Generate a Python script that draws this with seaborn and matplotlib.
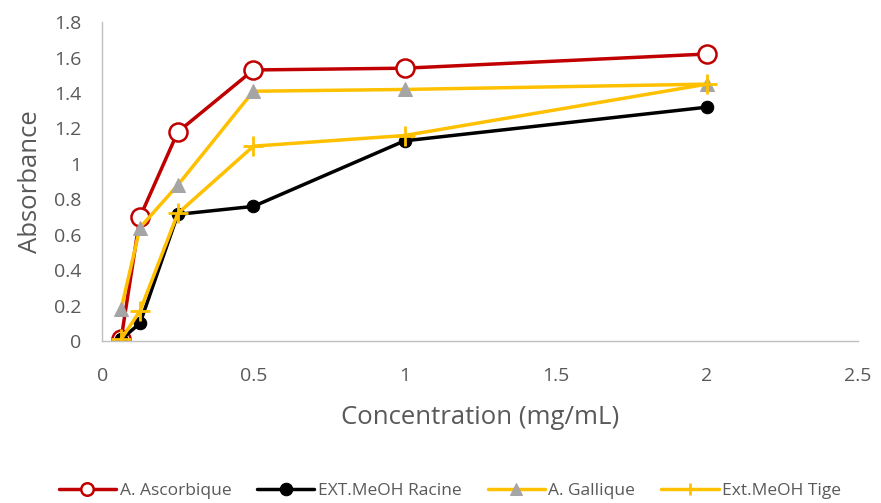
import matplotlib
matplotlib.use("Agg")
import matplotlib.pyplot as plt
import seaborn as sns
import pandas as pd

conc = [0.0625, 0.125, 0.25, 0.5, 1, 2]
ascorbique = [0.01, 0.70, 1.18, 1.53, 1.54, 1.62]
racine = [0.01, 0.10, 0.715, 0.76, 1.13, 1.32]
gallique = [0.18, 0.64, 0.88, 1.41, 1.42, 1.45]
tige = [0.01, 0.17, 0.72, 1.10, 1.16, 1.45]
series_names = ["A. Ascorbique", "EXT.MeOH Racine", "A. Gallique", "Ext.MeOH Tige"]

sns.set_theme(style="white")
plt.rcParams['font.family'] = ['Open Sans', 'DejaVu Sans']

fig = plt.figure(figsize=(8.81, 5.03), dpi=100)
ax = fig.add_axes([0.116, 0.322, 0.858, 0.634])

styles = [
    dict(color="#C00000", marker="o", markersize=13, markerfacecolor="white",
         markeredgecolor="#C00000", markeredgewidth=1.8),
    dict(color="black", marker="o", markersize=9, markerfacecolor="black",
         markeredgecolor="black"),
    dict(color="#FFC000", marker="^", markersize=10, markerfacecolor="#A5A5A5",
         markeredgecolor="#A5A5A5"),
    dict(color="#FFC000", marker="+", markersize=14, markeredgewidth=2,
         markeredgecolor="#FFC000"),
]
for name, vals, st in zip(series_names, [ascorbique, racine, gallique, tige], styles):
    df = pd.DataFrame({"x": conc, "y": vals})
    sns.lineplot(data=df, x="x", y="y", ax=ax, linewidth=2.5, label=name, **st)

ax.set_xlim(0, 2.5)
ax.set_ylim(0, 1.8)
ax.set_xticks([0, 0.5, 1, 1.5, 2, 2.5])
ax.set_xticklabels(["0", "0.5", "1", "1.5", "2", "2.5"])
ax.set_yticks([0, 0.2, 0.4, 0.6, 0.8, 1, 1.2, 1.4, 1.6, 1.8])
ax.set_yticklabels(["0", "0.2", "0.4", "0.6", "0.8", "1", "1.2", "1.4", "1.6", "1.8"])
ax.tick_params(axis="both", labelsize=14, colors="#595959", length=0)
ax.tick_params(axis="x", pad=19)
ax.tick_params(axis="y", pad=15)
for s in ["top", "right"]:
    ax.spines[s].set_visible(False)
for s in ["left", "bottom"]:
    ax.spines[s].set_color("#BFBFBF")
    ax.spines[s].set_linewidth(1)
ax.set_xlabel("Concentration (mg/mL)", fontsize=18.5, color="#595959", labelpad=14)
ax.set_ylabel("Absorbance", fontsize=18.5, color="#595959", labelpad=8)

leg = ax.legend(loc="center", bbox_to_anchor=(0.46, -0.47), ncol=4, frameon=False,
                fontsize=12.5, handlelength=3.3, columnspacing=1.5, handletextpad=0.2,
                labelcolor="#595959")
for lh in leg.legend_handles:
    lh.set_markersize(9)

fig.savefig("out.png", dpi=100)
